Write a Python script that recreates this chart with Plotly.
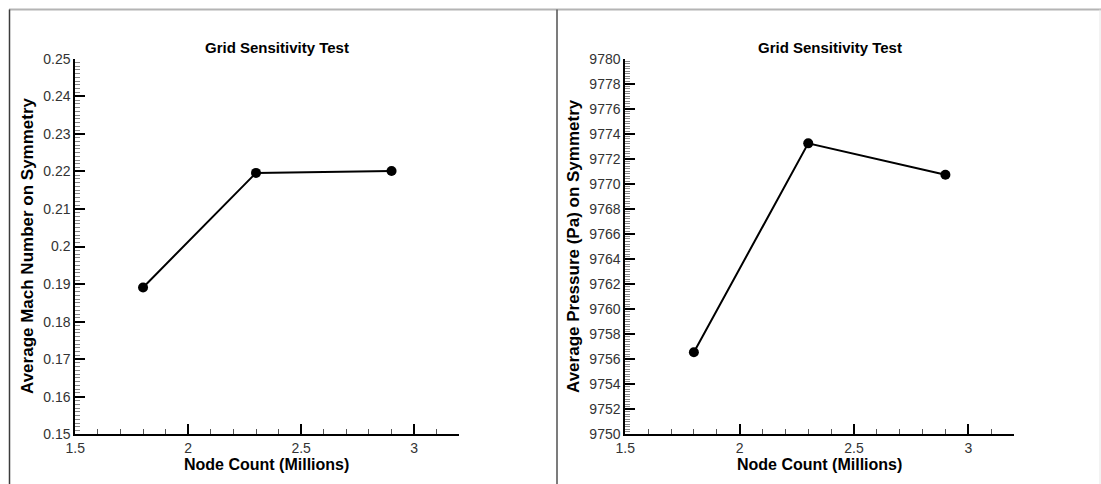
import plotly.graph_objects as go

# Mesh refinement study: node count vs. averaged quantities on the symmetry plane
node_count = [1.8, 2.3, 2.9]
mach_avg = [0.1891, 0.2196, 0.2201]
pressure_avg = [9756.55, 9773.24, 9770.73]

x_ticks = [1.5, 2.0, 2.5, 3.0]
x_tick_text = ["1.5", "2", "2.5", "3"]
mach_ticks = [0.15, 0.16, 0.17, 0.18, 0.19, 0.20, 0.21, 0.22, 0.23, 0.24, 0.25]
mach_tick_text = ["0.15", "0.16", "0.17", "0.18", "0.19", "0.2", "0.21", "0.22", "0.23", "0.24", "0.25"]
pressure_ticks = list(range(9750, 9781, 2))
pressure_tick_text = [str(v) for v in pressure_ticks]

W, H = 1101, 484
FONT = "Liberation Sans, Arial, sans-serif"


def px(x):
    """Pixel column -> paper x fraction."""
    return x / W


def py(y):
    """Pixel row (from top) -> paper y fraction."""
    return 1 - y / H


fig = go.Figure()

line_style = dict(color="black", width=2)
marker_style = dict(color="black", size=10, symbol="circle")

fig.add_trace(go.Scatter(x=node_count, y=mach_avg, mode="lines+markers",
                         line=line_style, marker=marker_style,
                         xaxis="x", yaxis="y", showlegend=False))
fig.add_trace(go.Scatter(x=node_count, y=pressure_avg, mode="lines+markers",
                         line=line_style, marker=marker_style,
                         xaxis="x2", yaxis="y2", showlegend=False))

tick_font = dict(family=FONT, size=14, color="#333333")

common_axis = dict(
    showline=True, linecolor="black", linewidth=2, mirror=False,
    showgrid=False, zeroline=False, automargin=False,
    ticks="inside", ticklen=10, tickwidth=2, tickcolor="black",
    tickfont=tick_font, fixedrange=True,
)

y_dom = [py(434.3), py(58.7)]

fig.update_layout(
    width=W, height=H,
    margin=dict(l=0, r=0, t=0, b=0, pad=0, autoexpand=False),
    paper_bgcolor="white", plot_bgcolor="white",
    xaxis=dict(domain=[px(75.3), px(459.3)], range=[1.5, 3.2], anchor="y",
               tickvals=x_ticks, ticktext=x_tick_text,
               minor=dict(dtick=0.1, tick0=1.5, ticks="inside", ticklen=5,
                          tickwidth=1, tickcolor="#555555"),
               **common_axis),
    yaxis=dict(domain=y_dom, range=[0.15, 0.25], anchor="x",
               tickvals=mach_ticks, ticktext=mach_tick_text,
               minor=dict(dtick=0.001, tick0=0.15, ticks="inside", ticklen=5,
                          tickwidth=1, tickcolor="#888888"),
               **common_axis),
    xaxis2=dict(domain=[px(625.3), px(1014)], range=[1.5, 3.2], anchor="y2",
                tickvals=x_ticks, ticktext=x_tick_text,
                minor=dict(dtick=0.1, tick0=1.5, ticks="inside", ticklen=5,
                           tickwidth=1, tickcolor="#555555"),
                **common_axis),
    yaxis2=dict(domain=y_dom, range=[9750, 9780], anchor="x2",
                tickvals=pressure_ticks, ticktext=pressure_tick_text,
                minor=dict(dtick=0.2, tick0=9750, ticks="inside", ticklen=5,
                           tickwidth=1, tickcolor="#888888"),
                **common_axis),
)

title_font = dict(family=FONT, size=15, color="black")
xtitle_font = dict(family=FONT, size=16, color="black")
ytitle_font = dict(family=FONT, size=17, color="black")

annotations = [
    # panel titles
    dict(x=px(277), y=py(47.5), text="<b>Grid Sensitivity Test</b>", font=title_font),
    dict(x=px(829.5), y=py(47.5), text="<b>Grid Sensitivity Test</b>", font=title_font),
    # x-axis titles
    dict(x=px(266), y=py(464), text="<b>Node Count (Millions)</b>", font=xtitle_font),
    dict(x=px(819), y=py(464), text="<b>Node Count (Millions)</b>", font=xtitle_font),
    # y-axis titles
    dict(x=px(27), y=py(246), text="<b>Average Mach Number on Symmetry</b>",
         font=ytitle_font, textangle=-90),
    dict(x=px(573), y=py(246), text="<b>Average Pressure (Pa) on Symmetry</b>",
         font=ytitle_font, textangle=-90),
]
for a in annotations:
    a.update(xref="paper", yref="paper", showarrow=False, xanchor="center", yanchor="middle")
fig.update_layout(annotations=annotations)

# frame lines around the two panels
fig.update_layout(shapes=[
    dict(type="line", xref="paper", yref="paper", x0=px(9), x1=1, y0=py(9.5), y1=py(9.5),
         line=dict(color="#b4b4b4", width=2)),
    dict(type="line", xref="paper", yref="paper", x0=px(9.5), x1=px(9.5), y0=0, y1=py(9.5),
         line=dict(color="#3c3c3c", width=1.5)),
    dict(type="line", xref="paper", yref="paper", x0=px(557), x1=px(557), y0=0, y1=py(9.5),
         line=dict(color="#505050", width=1.5)),
    dict(type="line", xref="paper", yref="paper", x0=px(1100), x1=px(1100), y0=0, y1=py(9.5),
         line=dict(color="#e6e6e6", width=1)),
])

fig.write_html("out.html")
